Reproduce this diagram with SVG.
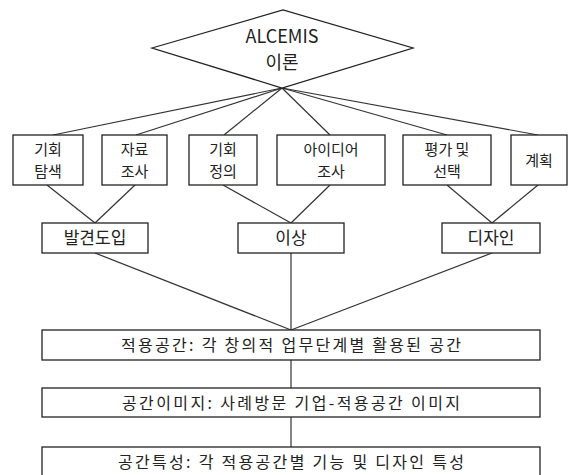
<svg xmlns="http://www.w3.org/2000/svg" width="570" height="475" viewBox="0 0 570 475">
<style>
.box{fill:#fff;stroke:#222;stroke-width:1.3}
.ln{stroke:#333;stroke-width:1.2;fill:none}
text{font-family:"Noto Sans CJK KR","Liberation Sans",sans-serif;fill:#222;text-anchor:middle}
.t1{font-size:15px}
.t2{font-size:17px}
.t3{font-size:16px}
</style>
<rect width="570" height="475" fill="#fff"/>
<g id="connectors">
<line class="ln" x1="282" y1="88" x2="53" y2="135"/>
<line class="ln" x1="282" y1="88" x2="136" y2="135"/>
<line class="ln" x1="282" y1="88" x2="224" y2="135"/>
<line class="ln" x1="282" y1="88" x2="330" y2="135"/>
<line class="ln" x1="282" y1="88" x2="447" y2="135"/>
<line class="ln" x1="282" y1="88" x2="538" y2="135"/>
<line class="ln" x1="47" y1="185" x2="95" y2="223"/>
<line class="ln" x1="135" y1="185" x2="95" y2="223"/>
<line class="ln" x1="223" y1="185" x2="291" y2="223"/>
<line class="ln" x1="330" y1="185" x2="291" y2="223"/>
<line class="ln" x1="447" y1="185" x2="492" y2="223"/>
<line class="ln" x1="538" y1="185" x2="492" y2="223"/>
<line class="ln" x1="95" y1="253" x2="291" y2="330"/>
<line class="ln" x1="291" y1="253" x2="291" y2="330"/>
<line class="ln" x1="492" y1="253" x2="291" y2="330"/>
<line class="ln" x1="291" y1="360" x2="291" y2="388"/>
<line class="ln" x1="291" y1="417" x2="291" y2="447"/>
</g>
<g id="alcemis">
<polygon class="box" points="152,48 283,10 413,48 282,88"/>
<text x="282" y="43" style="font-size:18px">ALCEMIS</text>
<text x="282" y="69" style="font-size:18px">이론</text>
</g>
<g id="n1"><rect class="box" x="13" y="135" width="70" height="50"/><text class="t1" x="48" y="155">기회</text><text class="t1" x="48" y="177">탐색</text></g>
<g id="n2"><rect class="box" x="102" y="135" width="65" height="50"/><text class="t1" x="134.5" y="155">자료</text><text class="t1" x="134.5" y="177">조사</text></g>
<g id="n3"><rect class="box" x="189" y="135" width="68" height="50"/><text class="t1" x="223" y="155">기회</text><text class="t1" x="223" y="177">정의</text></g>
<g id="n4"><rect class="box" x="277" y="135" width="108" height="50"/><text class="t1" x="331" y="155">아이디어</text><text class="t1" x="331" y="177">조사</text></g>
<g id="n5"><rect class="box" x="403" y="135" width="88" height="50"/><text class="t1" x="447" y="155">평가 및</text><text class="t1" x="447" y="177">선택</text></g>
<g id="n6"><rect class="box" x="511" y="135" width="56" height="50"/><text class="t1" x="539" y="166">계획</text></g>
<g id="m1"><rect class="box" x="42" y="223" width="106" height="30"/><text class="t2" x="95" y="244">발견도입</text></g>
<g id="m2"><rect class="box" x="238" y="223" width="106" height="30"/><text class="t2" x="291" y="244">이상</text></g>
<g id="m3"><rect class="box" x="442" y="223" width="98" height="30"/><text class="t2" x="491" y="244">디자인</text></g>
<g id="w1"><rect class="box" x="42" y="330" width="498" height="30"/><text class="t3" x="291" y="351" textLength="340" lengthAdjust="spacing">적용공간: 각 창의적 업무단계별 활용된 공간</text></g>
<g id="w2"><rect class="box" x="42" y="388" width="498" height="29"/><text class="t3" x="291" y="408.5" textLength="338" lengthAdjust="spacing">공간이미지: 사례방문 기업-적용공간 이미지</text></g>
<g id="w3"><rect class="box" x="42" y="447" width="498" height="30"/><text class="t3" x="291" y="468" textLength="346" lengthAdjust="spacing">공간특성: 각 적용공간별 기능 및 디자인 특성</text></g>
</svg>
